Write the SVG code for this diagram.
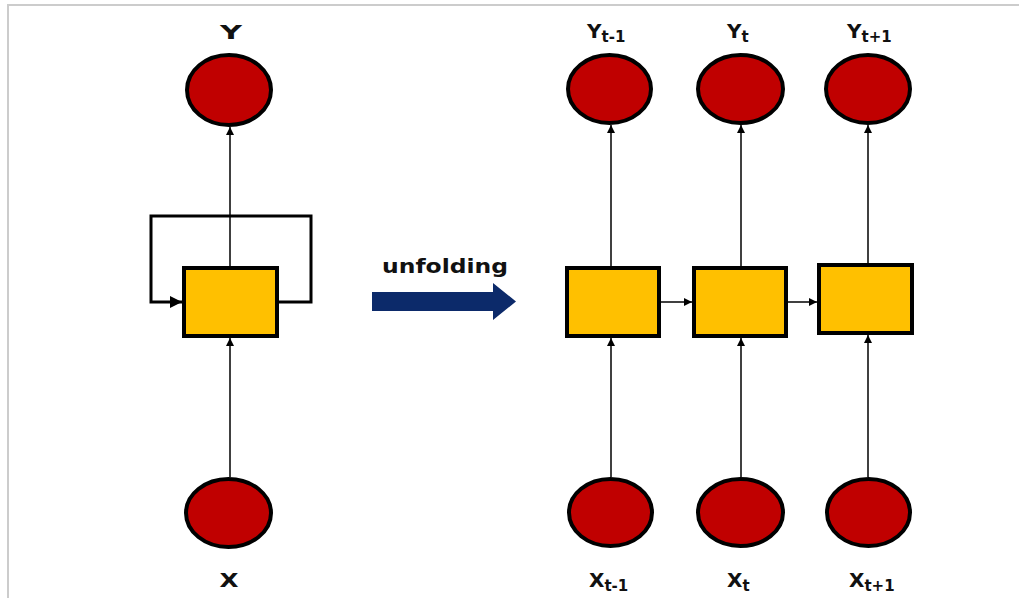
<svg xmlns="http://www.w3.org/2000/svg" width="1019" height="598" viewBox="0 0 1019 598">
<style>
.frame{fill:none;stroke:#cccccc;stroke-width:2}
.circ{fill:#c00000;stroke:#000;stroke-width:4}
.box{fill:#ffc000;stroke:#000;stroke-width:4}
.thin{fill:none;stroke:#000;stroke-width:1.5}
.loop{fill:none;stroke:#000;stroke-width:3}
.lbl{font-family:"DejaVu Sans",sans-serif;font-weight:bold;font-size:20px;fill:#111}
.sub{font-size:15px}
.uf{font-family:"DejaVu Sans",sans-serif;font-weight:bold;font-size:19px;fill:#111}
</style>
<defs>
<marker id="ah" viewBox="0 0 10 10" refX="10" refY="5" markerWidth="9" markerHeight="8" markerUnits="userSpaceOnUse" orient="auto">
<path d="M0,0 L10,5 L0,10 Z" fill="#000"/>
</marker>
<marker id="ahBig" viewBox="0 0 10 10" refX="10" refY="5" markerWidth="14" markerHeight="12" markerUnits="userSpaceOnUse" orient="auto">
<path d="M0,0 L10,5 L0,10 Z" fill="#000"/>
</marker>
</defs>
<rect width="1019" height="598" fill="#fff"/>
<path class="frame" d="M8,598 V5 H1019"/>
<g id="connectors">
<line class="thin" x1="230" y1="266" x2="230" y2="127" marker-end="url(#ah)"/>
<line class="thin" x1="230" y1="477" x2="230" y2="338" marker-end="url(#ah)"/>
<path class="loop" d="M279,302 H311 V216 H151 V302 H182" marker-end="url(#ahBig)"/>
<line class="thin" x1="611" y1="266" x2="611" y2="125" marker-end="url(#ah)"/>
<line class="thin" x1="741" y1="266" x2="741" y2="125" marker-end="url(#ah)"/>
<line class="thin" x1="868" y1="263" x2="868" y2="125" marker-end="url(#ah)"/>
<line class="thin" x1="611" y1="477" x2="611" y2="338" marker-end="url(#ah)"/>
<line class="thin" x1="741" y1="477" x2="741" y2="338" marker-end="url(#ah)"/>
<line class="thin" x1="868" y1="477" x2="868" y2="335" marker-end="url(#ah)"/>
<line class="thin" x1="661" y1="302" x2="692" y2="302" marker-end="url(#ah)"/>
<line class="thin" x1="788" y1="302" x2="817" y2="302" marker-end="url(#ah)"/>
</g>
<g id="Y">
<ellipse class="circ" cx="229" cy="90" rx="42" ry="35"/>
<text class="lbl" x="231" y="39" text-anchor="middle" textLength="22" lengthAdjust="spacingAndGlyphs">Y</text>
</g>
<g id="X">
<ellipse class="circ" cx="228.5" cy="513" rx="42.5" ry="34"/>
<text class="lbl" x="229" y="587" text-anchor="middle" textLength="19" lengthAdjust="spacingAndGlyphs">X</text>
</g>
<g id="H">
<rect class="box" x="184" y="268" width="93" height="68"/>
</g>
<g id="unfold">
<text class="uf" x="382" y="273" textLength="126" lengthAdjust="spacingAndGlyphs">unfolding</text>
<path d="M372,292 H493 V283 L516,301.5 L493,320 V311 H372 Z" fill="#0c2a6a"/>
</g>
<g id="Yt-1">
<ellipse class="circ" cx="609.5" cy="89" rx="41.5" ry="34"/>
<text class="lbl" x="587" y="38">Y<tspan class="sub" dy="4">t-1</tspan></text>
</g>
<g id="Yt">
<ellipse class="circ" cx="740.5" cy="89" rx="42.5" ry="34"/>
<text class="lbl" x="727" y="38">Y<tspan class="sub" dy="4">t</tspan></text>
</g>
<g id="Yt+1">
<ellipse class="circ" cx="868" cy="89" rx="42" ry="34"/>
<text class="lbl" x="847" y="38">Y<tspan class="sub" dy="4">t+1</tspan></text>
</g>
<g id="Ht-1">
<rect class="box" x="567" y="268" width="92" height="68"/>
</g>
<g id="Ht">
<rect class="box" x="694" y="268" width="92" height="68"/>
</g>
<g id="Ht+1">
<rect class="box" x="819" y="265" width="93" height="68"/>
</g>
<g id="Xt-1">
<ellipse class="circ" cx="610.5" cy="512.5" rx="41.5" ry="33.5"/>
<text class="lbl" x="589" y="587">X<tspan class="sub" dy="4">t-1</tspan></text>
</g>
<g id="Xt">
<ellipse class="circ" cx="740.5" cy="512.5" rx="42.5" ry="33.5"/>
<text class="lbl" x="727" y="587">X<tspan class="sub" dy="4">t</tspan></text>
</g>
<g id="Xt+1">
<ellipse class="circ" cx="868.5" cy="512.5" rx="41.5" ry="33.5"/>
<text class="lbl" x="849" y="587">X<tspan class="sub" dy="4">t+1</tspan></text>
</g>
</svg>
